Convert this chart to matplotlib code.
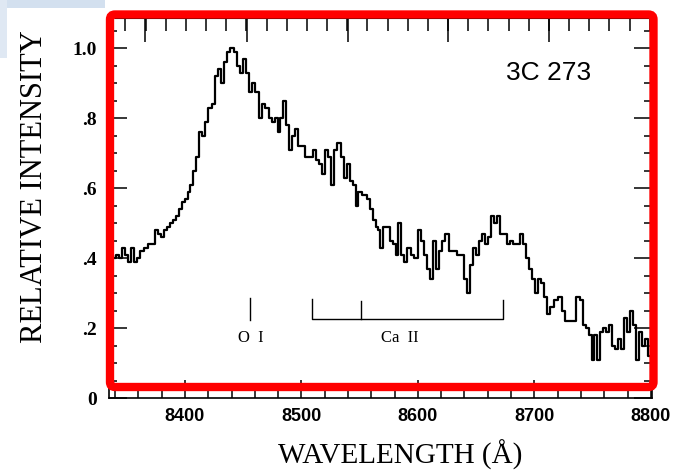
import numpy as np
import matplotlib.pyplot as plt
from matplotlib.patches import FancyBboxPatch, Rectangle
from matplotlib.ticker import MultipleLocator, FixedLocator

# spectrum of 3C 273 (step levels start at each wavelength)
wavelength = [8335.6, 8338.2, 8340.8, 8343.3, 8345.9, 8348.5, 8351.1, 8353.6, 8356.2, 8358.8,
              8361.4, 8364.8, 8368.2, 8371.7, 8374.2, 8376.8, 8379.4, 8382.0, 8384.5, 8387.1,
              8389.7, 8392.3, 8394.8, 8397.4, 8400.0, 8402.6, 8404.3, 8406.9, 8409.4, 8412.0,
              8414.6, 8417.2, 8419.7, 8423.2, 8425.8, 8428.3, 8430.9, 8433.5, 8436.1, 8438.6,
              8442.1, 8444.6, 8447.2, 8449.8, 8452.4, 8454.9, 8457.5, 8460.1, 8463.5, 8466.1,
              8468.7, 8472.1, 8474.7, 8477.3, 8479.8, 8481.5, 8484.1, 8486.7, 8489.3, 8491.8,
              8494.4, 8497.0, 8499.6, 8503.0, 8506.4, 8509.9, 8512.5, 8515.0, 8517.6, 8520.2,
              8522.8, 8525.3, 8527.9, 8530.5, 8533.9, 8536.5, 8539.1, 8541.6, 8544.2, 8546.8,
              8548.5, 8551.9, 8556.2, 8558.8, 8561.4, 8564.0, 8565.7, 8567.4, 8570.0, 8573.4,
              8576.0, 8578.5, 8581.1, 8582.8, 8585.4, 8588.0, 8590.6, 8594.0, 8596.6, 8600.0,
              8602.6, 8605.2, 8607.7, 8610.3, 8612.9, 8615.5, 8618.0, 8620.6, 8623.2, 8626.6,
              8630.1, 8633.5, 8636.9, 8639.5, 8642.1, 8644.6, 8647.2, 8649.8, 8652.4, 8654.9,
              8657.5, 8660.1, 8662.7, 8665.2, 8667.8, 8670.4, 8673.8, 8676.4, 8679.0, 8681.6,
              8685.0, 8687.6, 8690.1, 8692.7, 8695.3, 8697.9, 8700.4, 8703.0, 8705.6, 8708.2,
              8710.7, 8713.3, 8716.7, 8720.2, 8723.6, 8726.2, 8729.6, 8733.1, 8735.6, 8739.1,
              8741.6, 8744.2, 8746.8, 8749.4, 8751.1, 8753.7, 8756.2, 8758.8, 8761.4, 8764.0,
              8766.5, 8769.1, 8771.7, 8774.3, 8776.8, 8779.4, 8782.0, 8784.6, 8787.1, 8789.7,
              8792.3, 8794.9, 8797.4]
intensity = [0.41, 0.40, 0.41, 0.40, 0.43, 0.41, 0.39, 0.43, 0.39, 0.40,
             0.42, 0.43, 0.44, 0.44, 0.48, 0.47, 0.46, 0.48, 0.49, 0.50,
             0.51, 0.52, 0.54, 0.56, 0.57, 0.59, 0.61, 0.65, 0.69, 0.76,
             0.75, 0.79, 0.83, 0.84, 0.92, 0.94, 0.90, 0.96, 0.99, 1.00,
             0.99, 0.95, 0.93, 0.97, 0.93, 0.875, 0.90, 0.875, 0.80, 0.84,
             0.83, 0.80, 0.79, 0.80, 0.76, 0.80, 0.85, 0.78, 0.71, 0.75,
             0.77, 0.72, 0.72, 0.69, 0.69, 0.71, 0.68, 0.67, 0.64, 0.71,
             0.69, 0.61, 0.71, 0.73, 0.69, 0.63, 0.67, 0.62, 0.61, 0.55,
             0.59, 0.58, 0.57, 0.54, 0.51, 0.49, 0.48, 0.43, 0.49, 0.49,
             0.45, 0.44, 0.41, 0.50, 0.41, 0.39, 0.43, 0.41, 0.40, 0.48,
             0.45, 0.41, 0.37, 0.34, 0.45, 0.37, 0.42, 0.45, 0.47, 0.42,
             0.42, 0.41, 0.41, 0.34, 0.30, 0.38, 0.43, 0.41, 0.45, 0.47,
             0.44, 0.46, 0.52, 0.50, 0.52, 0.47, 0.47, 0.44, 0.45, 0.44,
             0.44, 0.47, 0.44, 0.40, 0.37, 0.34, 0.30, 0.34, 0.33, 0.29,
             0.24, 0.26, 0.28, 0.29, 0.25, 0.22, 0.22, 0.22, 0.29, 0.28,
             0.21, 0.20, 0.18, 0.11, 0.18, 0.11, 0.19, 0.20, 0.19, 0.21,
             0.15, 0.14, 0.17, 0.14, 0.23, 0.19, 0.25, 0.21, 0.11, 0.19,
             0.15, 0.17, 0.12]
wl_end = 8801.0

# line identifications
oi_line = 8456.2
caii_lines = [8509.0, 8551.5, 8673.4]

x_ticks = [8400, 8500, 8600, 8700, 8800]
y_ticks = [0, 0.2, 0.4, 0.6, 0.8, 1.0]
y_labels = ["0", ".2", ".4", ".6", ".8", "1.0"]
top_major = [8366.1, 8453.2, 8539.9, 8625.8, 8712.5]

fig = plt.figure(figsize=(6.79, 4.73), dpi=100)
ax = fig.add_axes([109 / 679, 1 - 398 / 473, 543 / 679, 380 / 473])

wl = np.append(wavelength, wl_end)
flux = np.append(intensity, intensity[-1])
ax.step(wl, flux, where="post", color="black", lw=1.6)

# O I mark
ax.plot([oi_line, oi_line], [0.223, 0.286], color="black", lw=1)
ax.text(oi_line, 0.171, "O  I", ha="center", va="center", fontsize=12,
        family="Liberation Serif")
# Ca II triplet bracket
ax.plot([caii_lines[0], caii_lines[0], caii_lines[2], caii_lines[2]],
        [0.282, 0.226, 0.226, 0.28], color="black", lw=1)
ax.plot([caii_lines[1], caii_lines[1]], [0.226, 0.278], color="black", lw=1)
ax.text(8584.6, 0.171, "Ca  II", ha="center", va="center", fontsize=12,
        family="Liberation Serif")

ax.text(8712.5, 0.93, "3C 273", ha="center", va="center", fontsize=19,
        family="Liberation Sans")

ax.set_xlim(8334.8, 8801)
ax.set_ylim(0, 1.086)

ax.set_xticks(x_ticks)
ax.xaxis.set_minor_locator(MultipleLocator(20))
ax.set_yticks(y_ticks)
ax.set_yticklabels(y_labels)
ax.yaxis.set_minor_locator(MultipleLocator(0.05))

ax.tick_params(axis="both", which="both", direction="in", top=False, right=True,
               width=1.1, color="black")
ax.tick_params(which="major", length=13)
ax.tick_params(which="minor", length=6)
ax.tick_params(axis="x", pad=7)
ax.tick_params(axis="y", pad=9)
for lab in ax.get_xticklabels():
    lab.set_family("Liberation Sans")
    lab.set_fontweight("bold")
    lab.set_fontsize(13)
for lab in ax.get_yticklabels():
    lab.set_family("Liberation Serif")
    lab.set_fontweight("bold")
    lab.set_fontsize(14)
for sp in ax.spines.values():
    sp.set_linewidth(1.2)

top = ax.secondary_xaxis("top")
top.set_xticks(top_major)
top.set_xticklabels([])
top.xaxis.set_minor_locator(FixedLocator(np.arange(8331.5, 8800, 17.32)))
top.tick_params(which="both", direction="in", width=1.1)
top.tick_params(which="major", length=17)
top.tick_params(which="minor", length=9)

fig.text(35 / 679, 1 - 187 / 473, "RELATIVE INTENSITY", rotation=90,
         ha="center", va="center", fontsize=22, family="Liberation Serif")
fig.text(400 / 679, 1 - 455 / 473, "WAVELENGTH (Å)", ha="center", va="center",
         fontsize=21, family="Liberation Serif")

# slide background bits and red highlight frame
fig.add_artist(Rectangle((0, 4.65), 1.05, 0.08, transform=fig.dpi_scale_trans,
                         color="#d3e0ef", lw=0, zorder=0))
fig.add_artist(Rectangle((0, 4.15), 0.07, 0.58, transform=fig.dpi_scale_trans,
                         color="#dfe8f3", lw=0, zorder=0))
fig.add_artist(FancyBboxPatch((1.10, 0.86), 5.435, 3.725,
                              boxstyle="round,pad=0,rounding_size=0.05",
                              transform=fig.dpi_scale_trans, fill=False,
                              ec="#ff0000", lw=6, zorder=10))

plt.savefig("out.png", dpi=100)
